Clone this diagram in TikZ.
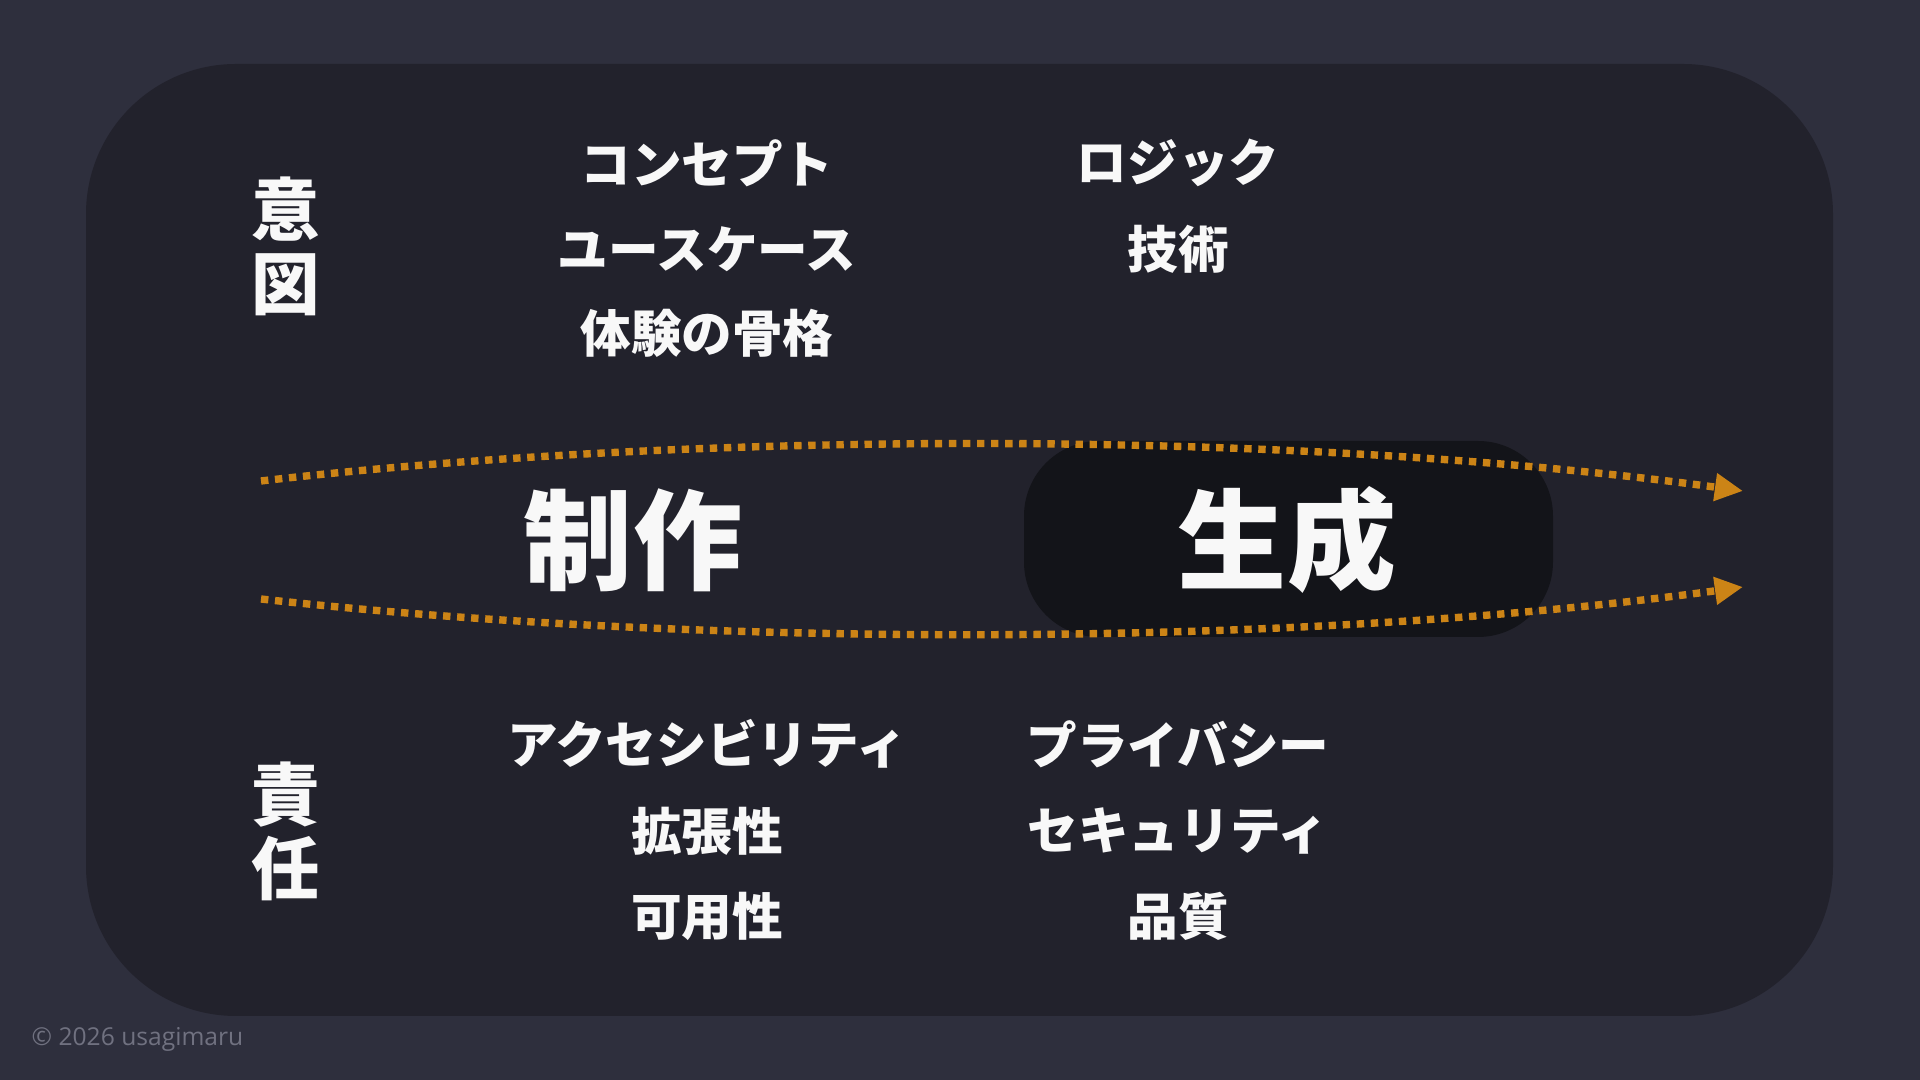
\documentclass[tikz,border=0pt]{standalone}
\usepackage{fontspec}
\newfontfamily\jp{Noto Sans CJK JP}
\newfontfamily\latin{Open Sans}
\usetikzlibrary{arrows.meta}
\definecolor{outerbg}{RGB}{46,47,61}
\definecolor{panel}{RGB}{34,34,44}
\definecolor{darkbox}{RGB}{19,20,25}
\definecolor{dotline}{RGB}{204,132,22}
\definecolor{txt}{RGB}{248,248,248}
\definecolor{copy}{RGB}{112,113,128}
\tikzset{
  px/.style={x=0.01cm,y=-0.01cm},
  side/.style={text=txt,font=\jp\bfseries\fontsize{19.5pt}{23pt}\selectfont,align=center,inner sep=0pt},
  item/.style={text=txt,font=\jp\bfseries\fontsize{14.4pt}{17pt}\selectfont,inner sep=0pt,anchor=center},
  big/.style={text=txt,font=\jp\bfseries\fontsize{31pt}{36pt}\selectfont,inner sep=0pt},
  flow/.style={draw=dotline,line width=2.1pt,dash pattern=on 2.1pt off 1.9pt,line cap=butt,-{Triangle[length=8pt,width=7.5pt]}}
}
\begin{document}
\begin{tikzpicture}[px]
\useasboundingbox (0,0) rectangle (1920,1080);
\fill[outerbg] (0,0) rectangle (1920,1080);
\fill[panel,rounded corners=150*0.01cm] (86,64) rectangle (1833,1016);
\node[fill=darkbox,rounded corners=75*0.01cm,minimum width=529*0.01cm,minimum height=196*0.01cm,inner sep=0pt] (genbox) at (1288.5,539) {};
% side labels
\node[side] (ito) at (286,246) {意\\[-2pt]図};
\node[side] (sekinin) at (286,831) {責\\[-2pt]任};
% top items
\node[item] (concept) at (707,163) {コンセプト};
\node[item] (usecase) at (707,249) {ユースケース};
\node[item] (taiken) at (707,333) {体験の骨格};
\node[item] (logic) at (1178,163) {ロジック};
\node[item] (gijutsu) at (1178,249) {技術};
% bottom items
\node[item] (access) at (707,744) {アクセシビリティ};
\node[item] (kakucho) at (707,831) {拡張性};
\node[item] (kayo) at (707,916) {可用性};
\node[item] (privacy) at (1178,744) {プライバシー};
\node[item] (security) at (1178,831) {セキュリティ};
\node[item] (hinshitsu) at (1178,916) {品質};
% big labels
\node[big] (seisaku) at (633,540) {制作};
\node[big] (seisei) at (1287,540) {生成};
% flows
\coordinate (t0) at (261,481);
\coordinate (t1) at (1743,491);
\coordinate (b0) at (261,599);
\coordinate (b1) at (1743,587);
\draw[flow] (t0) .. controls (700,430) and (1300,430) .. (t1);
\draw[flow] (b0) .. controls (700,648) and (1300,648) .. (b1);
% copyright
\node[text=copy,font=\latin\fontsize{7pt}{8pt}\selectfont,anchor=west,inner sep=0pt] (copyright) at (31,1039) {© 2026 usagimaru};
\end{tikzpicture}
\end{document}
